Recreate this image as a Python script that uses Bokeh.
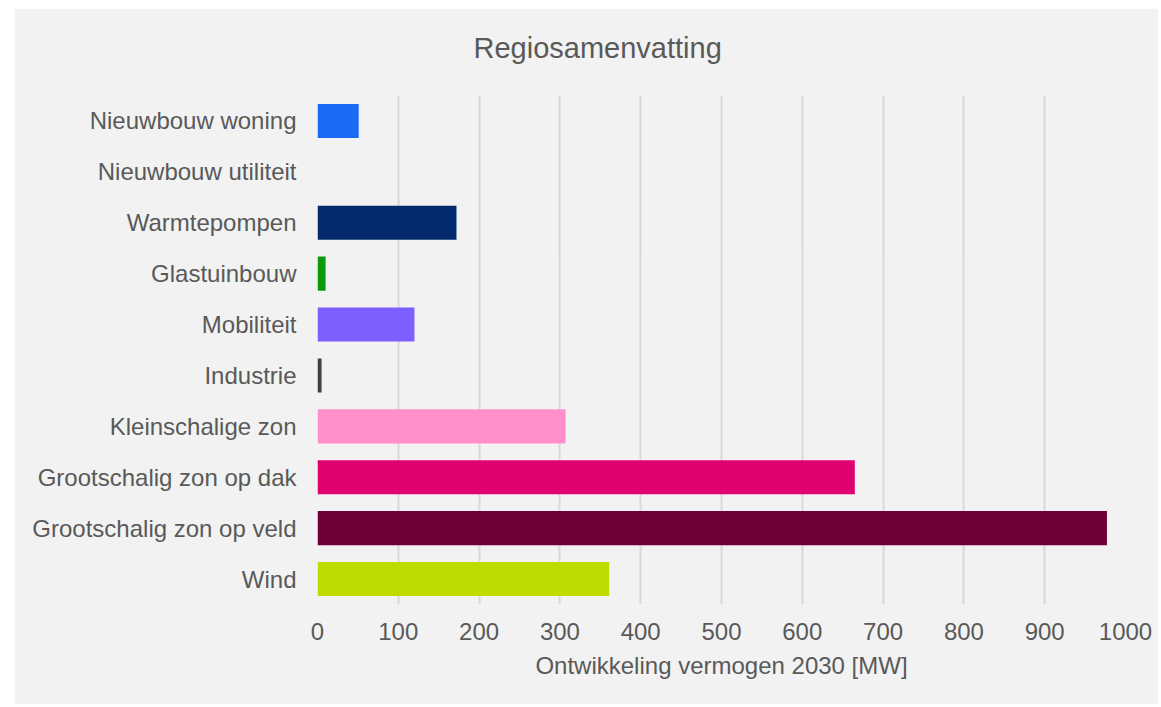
from bokeh.plotting import figure
from bokeh.models import FactorRange, FixedTicker, Title, ColumnDataSource, Spacer
from bokeh.layouts import column, row
from bokeh.embed import file_html
from bokeh.resources import INLINE

categories = [
    "Nieuwbouw woning",
    "Nieuwbouw utiliteit",
    "Warmtepompen",
    "Glastuinbouw",
    "Mobiliteit",
    "Industrie",
    "Kleinschalige zon",
    "Grootschalig zon op dak",
    "Grootschalig zon op veld",
    "Wind",
]
values = [51, 0, 172, 10, 120, 5, 307, 665, 977, 361]
colors = ["#1a6bf5", "#1a6bf5", "#022a6d", "#0b9a0b", "#7d5fff", "#404040",
          "#ff8fcb", "#e0006f", "#6d0036", "#bedc00"]
x_ticks = [0, 100, 200, 300, 400, 500, 600, 700, 800, 900, 1000]

BG = "#f2f2f2"
TXT = "#595959"
FONT = "Liberation Sans"

src = ColumnDataSource(dict(cat=categories, val=values, color=colors))

p = figure(
    y_range=FactorRange(factors=list(reversed(categories)), range_padding=0),
    x_range=(0, 1000),
    width=1144, height=696,
    output_backend="svg", toolbar_location=None, title_location=None,
    background_fill_color=BG, border_fill_color=BG,
    min_border_left=303, min_border_right=33,
    min_border_top=0, min_border_bottom=100,
)
p.outline_line_color = None

p.hbar(y="cat", right="val", left=0, height=0.67, fill_color="color",
       line_color=None, source=src)

gap = Title(text=" ", text_font=FONT, text_font_size="1px", standoff=8)
p.add_layout(gap, "above")
t = Title(text="Regiosamenvatting", align="left", offset=156,
          text_font=FONT, text_font_size="29px", text_font_style="normal",
          text_color=TXT, standoff=42)
p.add_layout(t, "above")

p.xaxis.ticker = FixedTicker(ticks=x_ticks)
p.xaxis.axis_label = "Ontwikkeling vermogen 2030 [MW]"
for ax in (p.xaxis, p.yaxis):
    ax.axis_line_color = None
    ax.major_tick_line_color = None
    ax.minor_tick_line_color = None
    ax.major_tick_out = 0
    ax.major_tick_in = 0
    ax.major_label_text_font = FONT
    ax.major_label_text_font_size = "24px"
    ax.major_label_text_color = TXT
p.xaxis.axis_label_text_font = FONT
p.xaxis.axis_label_text_font_size = "24px"
p.xaxis.axis_label_text_font_style = "normal"
p.xaxis.axis_label_text_color = TXT
p.xaxis.major_label_standoff = 18
p.xaxis.axis_label_standoff = 9
p.yaxis.major_label_standoff = 21

p.xgrid.grid_line_color = "#d9d9d9"
p.xgrid.grid_line_width = 2
p.ygrid.grid_line_color = None

layout = column(Spacer(height=8), row(Spacer(width=14), p))
open("out.html", "w").write(file_html(layout, INLINE))
